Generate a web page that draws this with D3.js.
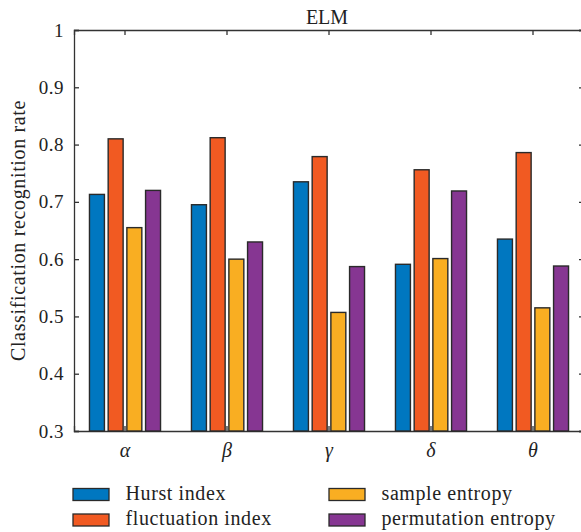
<!DOCTYPE html>
<html>
<head>
<meta charset="utf-8">
<script src="https://cdn.jsdelivr.net/npm/d3@7"></script>
<style>
  body { margin: 0; background: #fff; }
</style>
</head>
<body>
<div id="chart"></div>
<script>
const categories = ["α", "β", "γ", "δ", "θ"];
const seriesNames = ["Hurst index", "fluctuation index", "sample entropy", "permutation entropy"];
const hurst = [0.713, 0.695, 0.735, 0.591, 0.635];
const fluctuation = [0.810, 0.812, 0.779, 0.756, 0.786];
const sampleEntropy = [0.655, 0.600, 0.507, 0.601, 0.515];
const permutationEntropy = [0.720, 0.630, 0.587, 0.719, 0.588];
const yTicks = [0.3, 0.4, 0.5, 0.6, 0.7, 0.8, 0.9, 1];
const colors = ["#0077c0", "#f15a22", "#f9ae22", "#863692"];

const seriesValues = [hurst, fluctuation, sampleEntropy, permutationEntropy];
const serif = "'Liberation Serif', 'Times New Roman', serif";

const svgWidth = 581;
const svgHeight = 532;
const margin = { top: 30, right: -3, bottom: 101, left: 74 };
const width = svgWidth - margin.left - margin.right;
const height = svgHeight - margin.top - margin.bottom;

const svg = d3.select("#chart")
  .append("svg")
  .attr("width", svgWidth)
  .attr("height", svgHeight)
  .style("font-family", serif);

const g = svg.append("g")
  .attr("transform", `translate(${margin.left},${margin.top})`);

const x = d3.scaleBand()
  .domain(categories)
  .range([0, width])
  .padding(0);

const xSub = d3.scaleBand()
  .domain(seriesNames)
  .range([-37.4, 37.4])
  .paddingInner(0.2)
  .paddingOuter(0.1);

const y = d3.scaleLinear()
  .domain([0.3, 1])
  .range([height, 0]);

// axes (box with inward ticks)
const axisColor = "#333";

const yLeft = g.append("g")
  .call(d3.axisLeft(y).tickValues(yTicks).tickSize(-5).tickPadding(10)
    .tickFormat((d) => d === 1 ? "1" : d3.format(".1f")(d)));
const yRight = g.append("g")
  .attr("transform", `translate(${width},0)`)
  .call(d3.axisRight(y).tickValues(yTicks).tickSize(-5).tickFormat(""));
const xBottom = g.append("g")
  .attr("transform", `translate(0,${height})`)
  .call(d3.axisBottom(x).tickSize(-5).tickPadding(12));
const xTop = g.append("g")
  .call(d3.axisTop(x).tickSize(-5).tickFormat(""));

[yLeft, yRight, xBottom, xTop].forEach((ax) => {
  ax.attr("font-family", null);
  ax.select(".domain").attr("stroke", axisColor).attr("stroke-width", 1.3);
  ax.selectAll(".tick line").attr("stroke", axisColor).attr("stroke-width", 1.3);
});

yLeft.selectAll("text")
  .style("font-family", serif)
  .style("font-size", "19px")
  .style("letter-spacing", "0.5px")
  .attr("fill", "#222");
xBottom.selectAll("text")
  .style("font-family", serif)
  .style("font-size", "20px")
  .style("font-style", "italic")
  .attr("fill", "#222");

// bars
const groups = g.selectAll(".group")
  .data(categories)
  .enter()
  .append("g")
  .attr("class", "group")
  .attr("transform", (d) => `translate(${x(d) + x.bandwidth() / 2},0)`);

groups.selectAll("rect")
  .data((d, i) => seriesNames.map((s, j) => ({ s, j, v: seriesValues[j][i] })))
  .enter()
  .append("rect")
  .attr("x", (d) => xSub(d.s))
  .attr("y", (d) => y(d.v))
  .attr("width", xSub.bandwidth())
  .attr("height", (d) => height - y(d.v))
  .attr("fill", (d) => colors[d.j])
  .attr("stroke", "#2a2a2a")
  .attr("stroke-width", 1.4);

// title
g.append("text")
  .attr("x", width / 2 - 2)
  .attr("y", -6)
  .attr("text-anchor", "middle")
  .style("font-family", serif)
  .style("font-size", "20px")
  .attr("fill", "#222")
  .text("ELM");

// y label
svg.append("text")
  .attr("transform", `translate(25,${margin.top + height / 2}) rotate(-90)`)
  .attr("text-anchor", "middle")
  .style("font-family", serif)
  .style("font-size", "20px")
  .style("letter-spacing", "0.65px")
  .attr("fill", "#222")
  .text("Classification recognition rate");

// legend
const legendPos = [
  { x: 73, y: 494.5 },
  { x: 73, y: 520 },
  { x: 329, y: 494.5 },
  { x: 329, y: 520 }
];
const legend = svg.selectAll(".legend")
  .data(seriesNames)
  .enter()
  .append("g")
  .attr("class", "legend")
  .attr("transform", (d, i) => `translate(${legendPos[i].x},${legendPos[i].y})`);

legend.append("rect")
  .attr("x", 0)
  .attr("y", -6)
  .attr("width", 36)
  .attr("height", 12)
  .attr("fill", (d, i) => colors[i])
  .attr("stroke", "#2a2a2a")
  .attr("stroke-width", 1.3);

legend.append("text")
  .attr("x", 52.5)
  .attr("y", 5)
  .style("font-family", serif)
  .style("font-size", "20px")
  .style("letter-spacing", "0.6px")
  .attr("fill", "#222")
  .text((d) => d);
</script>
</body>
</html>
